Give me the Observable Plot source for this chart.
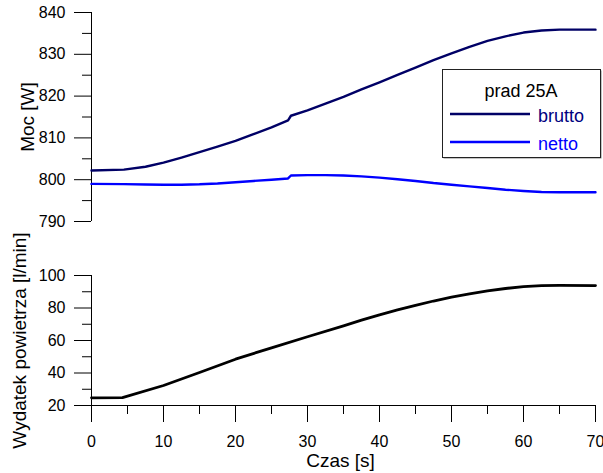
<!DOCTYPE html>
<html>
<head>
<meta charset="utf-8">
<script src="https://cdn.jsdelivr.net/npm/d3@7"></script>
<script src="https://cdn.jsdelivr.net/npm/@observablehq/plot@0.6"></script>
<style>
  html, body { margin: 0; padding: 0; background: #fff; }
  #wrap { position: relative; width: 603px; height: 473px; font-family: "Liberation Sans", Arial, sans-serif; }
  #top, #bottom, #legend { position: absolute; left: 0; }
  #top { top: 0; }
  #bottom { top: 231px; }
  #legend { left: 442px; top: 69px; }
</style>
</head>
<body>
<div id="wrap">
  <div id="top"></div>
  <div id="bottom"></div>
  <div id="legend"></div>
</div>
<script>
// ---- data ----
const tPower = [0, 4.5, 7.5, 10, 12.5, 15, 17.5, 20, 22.5, 25, 27.3, 27.7, 30, 32.5, 35, 37.5, 40, 42.5, 45, 47.5, 50, 52.5, 55, 57.5, 60, 62.5, 65, 70];
const brutto = [802.2, 802.4, 803.1, 804.1, 805.3, 806.6, 807.9, 809.3, 810.9, 812.5, 814.2, 815.3, 816.6, 818.2, 819.8, 821.6, 823.3, 825.1, 826.8, 828.6, 830.2, 831.8, 833.2, 834.3, 835.2, 835.7, 835.9, 835.9];
const netto  = [799.0, 798.95, 798.85, 798.8, 798.8, 798.9, 799.1, 799.4, 799.7, 800.0, 800.3, 801.0, 801.1, 801.1, 801.0, 800.8, 800.5, 800.1, 799.7, 799.2, 798.8, 798.4, 798.0, 797.6, 797.3, 797.05, 797.0, 797.0];

const tAir = [0, 4.3, 10, 15, 20, 25, 30, 35, 37.5, 40, 42.5, 45, 47.5, 50, 52.5, 55, 57.5, 60, 62.5, 65, 70];
const air  = [24.7, 24.8, 32.3, 40.3, 48.5, 55.5, 62.3, 69.0, 72.5, 75.8, 78.8, 81.6, 84.3, 86.7, 88.7, 90.5, 92.0, 93.2, 93.8, 93.9, 93.8];

const xTicks = [0, 10, 20, 30, 40, 50, 60, 70];
const xMinor = [5, 15, 25, 35, 45, 55, 65];
const yPowerTicks = [790, 800, 810, 820, 830, 840];
const yPowerMinor = [795, 805, 815, 825, 835];
const yAirTicks = [20, 40, 60, 80, 100];
const yAirMinor = [30, 50, 70, 90];

const seriesNames = ["brutto", "netto"];
const seriesColors = ["#000066", "#0000ff"];
const legendTitle = "prad 25A";

const font = "'Liberation Sans', Arial, sans-serif";
const powerData = tPower.map((t, i) => ({t, brutto: brutto[i], netto: netto[i]}));
const airData = tAir.map((t, i) => ({t, v: air[i]}));

const topPlot = Plot.plot({
  width: 603, height: 231,
  marginLeft: 91, marginRight: 8, marginTop: 12, marginBottom: 10,
  style: {fontFamily: font, fontSize: "16px", color: "#000", background: "#fff"},
  x: {domain: [0, 70], axis: null},
  y: {domain: [790, 840], axis: null},
  marks: [
    Plot.axisY({ticks: yPowerTicks, tickSize: 17, tickPadding: 9, fontSize: 16, label: null, stroke: "#000"}),
    Plot.axisY({ticks: yPowerMinor, tickSize: 9, text: null, label: null, stroke: "#000"}),
    Plot.ruleX([0], {stroke: "#000"}),
    Plot.text(["Moc [W]"], {frameAnchor: "left", rotate: -90, dx: -58, textAnchor: "middle", lineAnchor: "bottom", fontSize: 19, fill: "#000"}),
    Plot.line(powerData, {x: "t", y: "netto", stroke: seriesColors[1], strokeWidth: 2.4, strokeLinejoin: "round"}),
    Plot.line(powerData, {x: "t", y: "brutto", stroke: seriesColors[0], strokeWidth: 2.4, strokeLinejoin: "round"})
  ]
});
document.getElementById("top").appendChild(topPlot);

const bottomPlot = Plot.plot({
  width: 603, height: 242,
  marginLeft: 91, marginRight: 8, marginTop: 44, marginBottom: 68,
  style: {fontFamily: font, fontSize: "16px", color: "#000", background: "#fff", overflow: "visible"},
  x: {domain: [0, 70], axis: null},
  y: {domain: [20, 100], axis: null},
  marks: [
    Plot.axisY({ticks: yAirTicks, tickSize: 17, tickPadding: 9, fontSize: 16, label: null, stroke: "#000"}),
    Plot.axisY({ticks: yAirMinor, tickSize: 9, text: null, label: null, stroke: "#000"}),
    Plot.axisX({ticks: xTicks, tickSize: 17, tickPadding: 13, fontSize: 16, label: null, stroke: "#000"}),
    Plot.axisX({ticks: xMinor, tickSize: 9, text: null, label: null, stroke: "#000"}),
    Plot.ruleX([0], {stroke: "#000"}),
    Plot.ruleY([20], {stroke: "#000"}),
    Plot.text(["Wydatek powietrza [l/min]"], {frameAnchor: "left", rotate: -90, dx: -66, textAnchor: "middle", lineAnchor: "bottom", fontSize: 19, fill: "#000"}),
    Plot.text(["Czas [s]"], {frameAnchor: "bottom", dy: 61, dx: -3, textAnchor: "middle", lineAnchor: "bottom", fontSize: 19, fill: "#000"}),
    Plot.line(airData, {x: "t", y: "v", stroke: "#000", strokeWidth: 2.8, strokeLinejoin: "round"})
  ]
});
document.getElementById("bottom").appendChild(bottomPlot);

// legend
const lg = d3.select("#legend").append("svg")
  .attr("width", 161).attr("height", 91)
  .style("font-family", font);
lg.append("rect").attr("x", 1.5).attr("y", 1.5).attr("width", 158).attr("height", 88)
  .attr("fill", "#888");
lg.append("rect").attr("x", 0.5).attr("y", 0.5).attr("width", 158).attr("height", 88)
  .attr("fill", "#fff").attr("stroke", "#222").attr("stroke-width", 1);
lg.append("text").attr("x", 79).attr("y", 27.7).attr("text-anchor", "middle")
  .attr("font-size", 18).attr("fill", "#000").text(legendTitle);
seriesNames.forEach((name, i) => {
  const yy = 45 + i * 28;
  lg.append("line").attr("x1", 8).attr("x2", 88).attr("y1", yy).attr("y2", yy)
    .attr("stroke", seriesColors[i]).attr("stroke-width", 2.4);
  lg.append("text").attr("x", 96).attr("y", yy + 7.5).attr("font-size", 18)
    .attr("fill", i === 0 ? "#000080" : seriesColors[i]).text(name);
});
</script>
</body>
</html>
